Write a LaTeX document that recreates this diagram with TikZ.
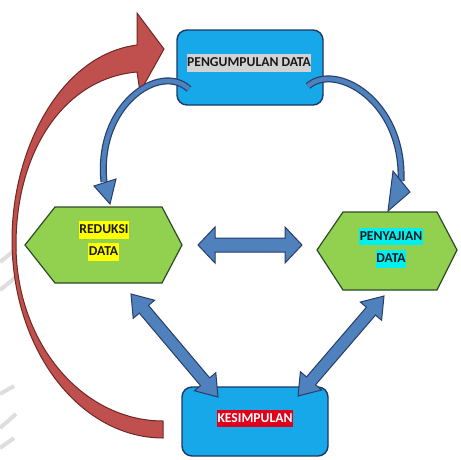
\documentclass[tikz,border=0pt]{standalone}
\usepackage{fontspec}
\setmainfont{Carlito}
\usetikzlibrary{calc}
\definecolor{boxblue}{RGB}{22,168,232}
\definecolor{boxborder}{RGB}{30,55,100}
\definecolor{hexgreen}{RGB}{146,208,80}
\definecolor{hexborder}{RGB}{45,75,40}
\definecolor{arrowblue}{RGB}{79,129,189}
\definecolor{arrowdark}{RGB}{40,62,105}
\definecolor{redfill}{RGB}{192,80,77}
\definecolor{reddark}{RGB}{110,40,38}
\definecolor{hlgray}{RGB}{210,210,210}
\definecolor{hlyellow}{RGB}{255,255,0}
\definecolor{hlcyan}{RGB}{0,240,240}
\definecolor{hlred}{RGB}{225,0,25}
\definecolor{wmgray}{RGB}{222,222,222}
\tikzset{
  box/.style={draw=boxborder, fill=boxblue, line width=1.4pt, rounded corners=10pt},
  hexa/.style={draw=hexborder, fill=hexgreen, line width=1.2pt, line join=miter},
  lbl/.style={font=\fontsize{13.6}{15}\selectfont\bfseries, text=black!90, inner xsep=0.6pt, inner ysep=2.5pt, text height=9.8pt, text depth=2.6pt},
  blk/.style={draw=arrowdark, fill=arrowblue, line width=1pt, line join=miter},
  redarrow/.style={draw=reddark, fill=redfill, line width=1pt, line join=miter},
  wmark/.style={draw=wmgray, line width=4pt},
}
\newcommand{\blockdbl}[5]{%
  \path ($(#1)!#3!(#2)$) coordinate (h1) ($(#2)!#3!(#1)$) coordinate (h2);
  \filldraw[blk] (#1) -- ($(h1)!#4!90:(#2)$) -- ($(h1)!#5!90:(#2)$) -- ($(h2)!#5!-90:(#1)$) -- ($(h2)!#4!-90:(#1)$) -- (#2) -- ($(h2)!#4!90:(#1)$) -- ($(h2)!#5!90:(#1)$) -- ($(h1)!#5!-90:(#2)$) -- ($(h1)!#4!-90:(#2)$) -- cycle;
}
\begin{document}
\begin{tikzpicture}[x=1pt,y=-1pt]
\useasboundingbox[fill=white] (0,0) rectangle (461,459);

% faint watermark strokes at the left edge
\draw[wmark] (0,262) -- (16,249);
\draw[wmark] (0,290) -- (16,277);
\draw[wmark] (0,394) -- (14,386);
\draw[wmark] (0,428) -- (16,414);
\draw[wmark] (0,448) -- (14,438);

% red curved arrow (kesimpulan -> pengumpulan)
\filldraw[redarrow] (163,438)
  -- plot[domain=90:180, samples=50] ({163+151*cos(\x)},{240+198*sin(\x)})
  .. controls (12,150) and (60,55) .. (137,45)
  -- (137,13) -- (164,49) -- (140,92) -- (137,72)
  .. controls (65,78) and (16,150) .. (16,245)
  -- plot[domain=180:90, samples=50] ({163+147*cos(\x)},{245+176*sin(\x)})
  -- cycle;

% boxes
\node[box, minimum width=146pt, minimum height=75pt] (kumpul) at (250,67.5) {};
\node[box, minimum width=146pt, minimum height=69pt] (simpul) at (255,421.5) {};

% hexagons
\filldraw[hexa] (25,245) -- (55,207) -- (162,207) -- (182,245) -- (162,283) -- (55,283) -- cycle;
\coordinate (reduksi) at (103,245);
\filldraw[hexa] (317,250) -- (343,212) -- (437,212) -- (457,250) -- (437,290) -- (343,290) -- cycle;
\coordinate (sajian) at (390,250);

% labels
\node[lbl, fill=hlgray] (tkumpul) at (249,63) {PENGUMPULAN DATA};
\node[lbl, fill=hlyellow] (tred1) at (104,230) {REDUKSI};
\node[lbl, fill=hlyellow] (tred2) at (103.5,252) {DATA};
\node[lbl, fill=hlcyan] (tsaj1) at (391,236.5) {PENYAJIAN};
\node[lbl, fill=hlcyan] (tsaj2) at (391,259) {DATA};
\node[lbl, fill=hlred, text=white] (tsimpul) at (255,418.5) {KESIMPULAN};

% curved blue arrows from pengumpulan
\coordinate (kl) at (189,89);
\coordinate (klend) at (104,182);
\draw[line width=7pt, arrowdark] (kl) .. controls (160,62) and (96,105) .. (klend);
\draw[line width=4.6pt, arrowblue] (kl) .. controls (160,62) and (96,105) .. (klend);
\filldraw[blk] (94,186) -- (116,179) -- (110,204) -- cycle;

\coordinate (kr) at (308,86);
\coordinate (krend) at (401,181);
\draw[line width=7pt, arrowdark] (kr) .. controls (335,62) and (404,100) .. (krend);
\draw[line width=4.6pt, arrowblue] (kr) .. controls (335,62) and (404,100) .. (krend);
\filldraw[blk] (393,171) -- (410,192) -- (388,211) -- cycle;

% double arrows
\coordinate (hl) at (198,245);
\coordinate (hr) at (302,245);
\blockdbl{hl}{hr}{17pt}{18pt}{7pt}
\coordinate (dl1) at (131,294);
\coordinate (dl2) at (218,397);
\blockdbl{dl1}{dl2}{20pt}{14pt}{6pt}
\coordinate (dr1) at (384,296);
\coordinate (dr2) at (298,396);
\blockdbl{dr1}{dr2}{20pt}{14pt}{6pt}
\end{tikzpicture}
\end{document}
